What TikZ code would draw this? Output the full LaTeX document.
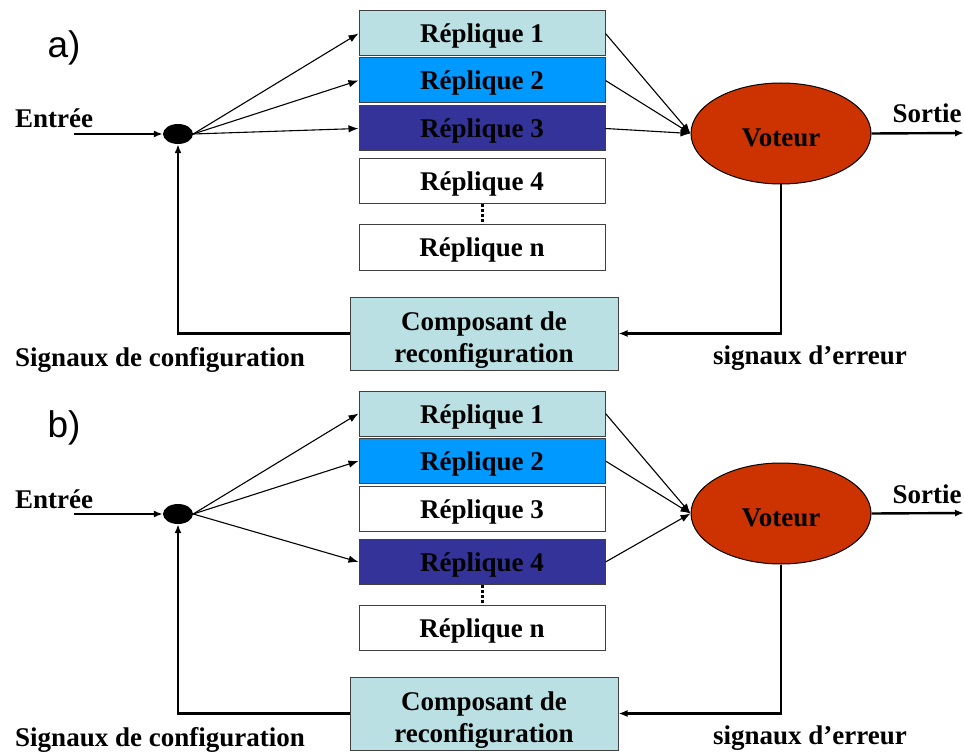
\documentclass[tikz,border=0pt]{standalone}
\usepackage{fontspec}
\setmainfont{Liberation Serif}
\newfontfamily\panelfont{Liberation Sans}
\usetikzlibrary{arrows.meta,shapes.geometric}

\definecolor{tealpale}{HTML}{BBE0E3}
\definecolor{skyblue}{HTML}{0099FF}
\definecolor{indigo}{HTML}{333399}
\definecolor{brick}{HTML}{CC3300}

\tikzset{
  txt/.style={font=\fontsize{27}{32}\selectfont\bfseries, inner sep=0pt},
  repbox/.style={txt, draw=black!75, line width=1pt, minimum width=246pt,
                 minimum height=45pt, text height=25pt, text depth=6pt, anchor=center},
  compbox/.style={txt, draw=black!75, line width=1pt, fill=tealpale,
                  minimum width=268pt, minimum height=73pt, align=center},
  voter/.style={txt, ellipse, draw=black, line width=1pt, fill=brick,
                minimum width=180pt, minimum height=101pt, text height=26pt, text depth=0pt},
  junction/.style={ellipse, fill=black, minimum width=30pt, minimum height=20pt, inner sep=0pt},
  thinarrow/.style={line width=1.1pt, -{Latex[length=10pt,width=7.5pt]}},
  thickarrow/.style={line width=2.4pt, -{Latex[length=9pt,width=7pt]}},
  dotline/.style={line width=3pt, dash pattern=on 3pt off 2pt},
  tag/.style={font=\panelfont\fontsize{37}{40}\selectfont, inner sep=0pt},
  lbl/.style={txt, anchor=base}
}

% one strut to lower the two-line caption inside the reconfiguration box
\newcommand{\firstlinestrut}{\rule{0pt}{31pt}}

\begin{document}
\begin{tikzpicture}[x=1pt,y=-1pt]
\useasboundingbox (0,0) rectangle (964,754);

% ---------- panel a ----------
\begin{scope}[name prefix=a-]
  \node[tag] (tag) at (64,48) {a)};
  \node[lbl] (entree) at (54,128) {Entrée};
  \node[lbl] (sortie) at (927,123) {Sortie};
  \node[lbl] (err) at (810,364) {signaux d’erreur};
  \node[lbl] (cfg) at (160,366) {Signaux de configuration};

  \node[junction] (dot) at (178,134) {};
  \coordinate (in) at (74,134);
  \coordinate (out) at (964,133);

  \node[repbox, fill=tealpale] (r1) at (482,33.5) {Réplique 1};
  \node[repbox, fill=skyblue] (r2) at (482,80.5) {Réplique 2};
  \node[repbox, fill=indigo] (r3) at (482,128.5) {Réplique 3};
  \node[repbox, fill=white] (r4) at (482,181.5) {Réplique 4};
  \node[repbox, fill=white] (rn) at (482,247.5) {Réplique n};

  \node[voter] (vot) at (781,133.5) {Voteur};
  \node[compbox] (comp) at (484,333.5) {\firstlinestrut Composant de\\reconfiguration};

  \draw[thickarrow] (in) -- (dot);
  \draw[thinarrow] (dot.east) -- (r1.west);
  \draw[thinarrow] (dot.east) -- (r2.west);
  \draw[thinarrow] (dot.east) -- (r3.west);
  \draw[thinarrow] (r1.east) -- (vot.west);
  \draw[thinarrow] (r2.east) -- (vot.west);
  \draw[thinarrow] (r3.east) -- (vot.west);
  \draw[dotline] (r4.south) -- (rn.north);
  \draw[thickarrow] (vot.east) -- (out);
  \draw[thickarrow] (vot.south) |- (comp.east);
  \draw[thickarrow] (comp.west) -| (dot.south);
\end{scope}

% ---------- panel b ----------
\begin{scope}[name prefix=b-, yshift=-380pt]
  \node[tag] (tag) at (64,48) {b)};
  \node[lbl] (entree) at (54,128) {Entrée};
  \node[lbl] (sortie) at (927,123) {Sortie};
  \node[lbl] (err) at (810,364) {signaux d’erreur};
  \node[lbl] (cfg) at (160,366) {Signaux de configuration};

  \node[junction] (dot) at (178,134) {};
  \coordinate (in) at (74,134);
  \coordinate (out) at (964,133);

  \node[repbox, fill=tealpale] (r1) at (482,33.5) {Réplique 1};
  \node[repbox, fill=skyblue] (r2) at (482,81) {Réplique 2};
  \node[repbox, fill=white] (r3) at (482,129) {Réplique 3};
  \node[repbox, fill=indigo] (r4) at (482,182) {Réplique 4};
  \node[repbox, fill=white] (rn) at (482,248) {Réplique n};

  \node[voter] (vot) at (781,133.5) {Voteur};
  \node[compbox] (comp) at (484,333.5) {\firstlinestrut Composant de\\reconfiguration};

  \draw[thickarrow] (in) -- (dot);
  \draw[thinarrow] (dot.east) -- (r1.west);
  \draw[thinarrow] (dot.east) -- (r2.west);
  \draw[thinarrow] (dot.east) -- (r4.west);
  \draw[thinarrow] (r1.east) -- (vot.west);
  \draw[thinarrow] (r2.east) -- (vot.west);
  \draw[thinarrow] (r4.east) -- (vot.west);
  \draw[dotline] (r4.south) -- (rn.north);
  \draw[thickarrow] (vot.east) -- (out);
  \draw[thickarrow] (vot.south) |- (comp.east);
  \draw[thickarrow] (comp.west) -| (dot.south);
\end{scope}
\end{tikzpicture}
\end{document}
